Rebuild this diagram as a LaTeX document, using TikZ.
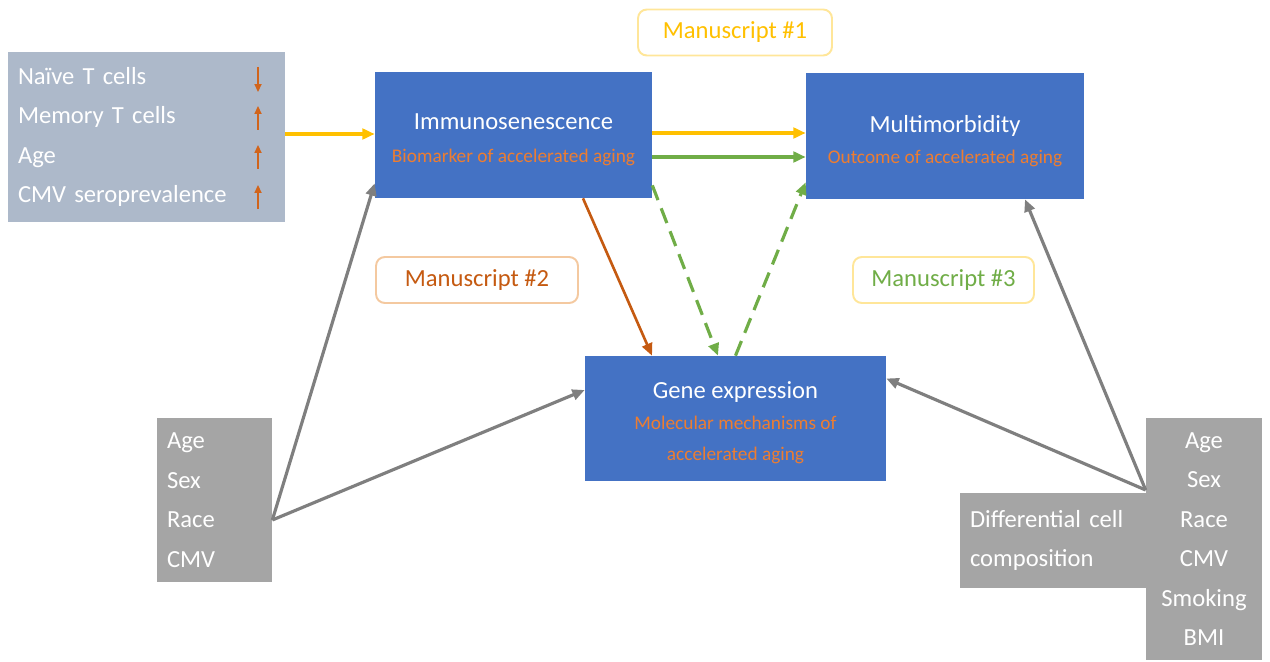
\documentclass[tikz,border=0pt]{standalone}
\usepackage{fontspec}
\setmainfont{Carlito}
\usetikzlibrary{arrows.meta}
\definecolor{boxblue}{HTML}{4472C4}
\definecolor{slate}{HTML}{ADB9CA}
\definecolor{boxgrey}{HTML}{A5A5A5}
\definecolor{lnkgrey}{HTML}{7F7F7F}
\definecolor{gold}{HTML}{FFC000}
\definecolor{subor}{HTML}{ED7D31}
\definecolor{darkor}{HTML}{C55A11}
\definecolor{leaf}{HTML}{70AD47}
\definecolor{paleyel}{HTML}{FFE699}
\definecolor{paleor}{HTML}{F4C9A0}
\newcommand{\subline}{\color{subor}\fontsize{11}{16}\selectfont}
\begin{document}
\begin{tikzpicture}[x=0.02cm, y=-0.02cm, >={Triangle[length=7pt,width=6pt]},
  font=\fontsize{14}{22.5}\selectfont,
  mainbox/.style={fill=boxblue, inner sep=0pt},
  boxtext/.style={text=white, align=center, inner sep=0pt},
  covbox/.style={fill=boxgrey, text=white, inner sep=0pt},
  msbox/.style={draw=#1, line width=1.1pt, rounded corners=5pt, fill=white,
    minimum height=0.92cm, inner sep=0pt},
  link/.style={->, line width=1.8pt},
  trend/.style={->, darkor!70!subor, line width=0.9pt, >={Triangle[length=4.5pt,width=4pt]}}]
\useasboundingbox (0,0) rectangle (1270,662);
% Blue boxes
\node[mainbox, minimum width=5.54cm, minimum height=2.52cm] (immuno) at (513.5,135) {};
\node[boxtext] (immunoT) at ([yshift=-0.1cm]immuno.center)
  {Immunosenescence\\[-4pt]\subline Biomarker of accelerated aging};
\node[mainbox, minimum width=5.56cm, minimum height=2.52cm] (multi) at (945,136) {};
\node[boxtext] (multiT) at ([yshift=-0.1cm]multi.center)
  {Multimorbidity\\[-4.5pt]\subline Outcome of accelerated aging};
\node[mainbox, minimum width=6.02cm, minimum height=2.5cm] (gene) at (735.5,418.5) {};
\node[boxtext] (geneT) at ([yshift=-0.08cm]gene.center)
  {Gene expression\\[-5pt]\subline Molecular mechanisms of\\[-5pt]\subline accelerated aging};
% Markers
\node[fill=slate, text=white, align=left, text width=5.14cm, minimum height=3.4cm,
  inner xsep=0.2cm] (markers) at (146.5,137)
  {Naïve T cells\\Memory T cells\\Age\\CMV seroprevalence};
\draw[trend] (258,67) -- (258,92);
\foreach \y in {118,157,197}
  \draw[trend] (258,\y+12) -- (258,\y-12);
% Covariates
\node[covbox, align=left, text width=1.9cm, minimum height=3.28cm, inner xsep=0.2cm] (covL) at (214.5,500)
  {Age\\Sex\\Race\\CMV};
\node[covbox, align=left, text width=3.32cm, minimum height=1.9cm, inner xsep=0.2cm] (diffcell) at (1053,540.5)
  {Differential cell\\composition};
\node[covbox, align=center, minimum width=2.32cm, minimum height=4.84cm] (covR) at (1204,539)
  {Age\\Sex\\Race\\CMV\\Smoking\\BMI};
% Manuscripts
\node[msbox=paleyel, minimum width=3.88cm, text=gold] (ms1) at (735,32.5) {Manuscript \#1};
\node[msbox=paleor, minimum width=4.04cm, text=darkor] (ms2) at (477,280) {Manuscript \#2};
\node[msbox=paleyel, minimum width=3.62cm, text=leaf] (ms3) at (943.5,280) {Manuscript \#3};
% Links
\draw[link, gold] ([yshift=0.06cm]markers.east) -- ([yshift=0.06cm]markers.east -| immuno.west);
\draw[link, gold] ([yshift=0.04cm]immuno.east) -- ([yshift=0.04cm]immuno.east -| multi.west);
\draw[link, leaf] ([yshift=-0.44cm]immuno.east) -- ([yshift=-0.44cm]immuno.east -| multi.west);
\draw[link, darkor, line width=1.5pt] ([xshift=1.39cm]immuno.south) -- ([xshift=-1.67cm]gene.north);
\draw[link, leaf, dashed, dash pattern=on 9pt off 5pt] ([yshift=0.26cm]immuno.south east) -- ([xshift=-0.35cm]gene.north);
\draw[link, leaf, dashed, dash pattern=on 9pt off 5pt] (gene.north) -- ([yshift=0.34cm]multi.south west);
% Covariate links
\coordinate (lj) at ([yshift=-0.4cm]covL.east);
\coordinate (rj) at ([yshift=0.98cm]covR.west);
\draw[link, lnkgrey] (lj) -- ([yshift=0.3cm]immuno.south west);
\draw[link, lnkgrey] (lj) -- ([yshift=0.57cm]gene.west);
\draw[link, lnkgrey] (rj) -- ([yshift=0.8cm]gene.east);
\draw[link, lnkgrey] (rj) -- ([xshift=1.6cm]multi.south);
\end{tikzpicture}
\end{document}
